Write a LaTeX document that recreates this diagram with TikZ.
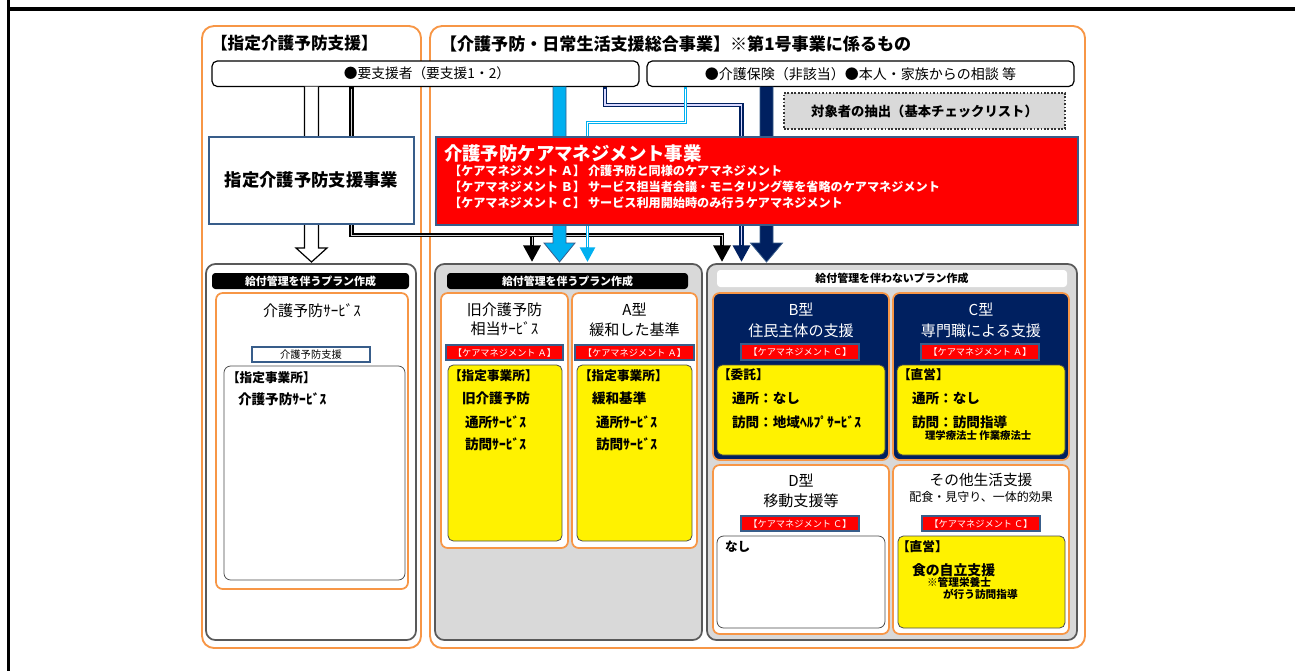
\documentclass[tikz,border=0pt]{standalone}
\usepackage{fontspec}
\setmainfont{Noto Sans CJK JP}
\usetikzlibrary{fit,calc,arrows.meta}
\definecolor{orangeC}{HTML}{F79646}
\definecolor{navyC}{HTML}{002060}
\definecolor{cyanC}{HTML}{00B0F0}
\definecolor{bgray}{HTML}{385D8A}
\definecolor{lgray}{HTML}{D9D9D9}
\definecolor{dgray}{HTML}{595959}
\newcommand\jfs[1]{\fontsize{#1pt}{#1pt}\selectfont}
\begin{document}
\begin{tikzpicture}[x=0.75pt,y=-0.75pt,
  every node/.style={inner sep=0pt, outer sep=0pt},
  obox/.style={draw=orangeC, line width=1.4pt, rounded corners=9pt},
  gbox/.style={draw=dgray, line width=1.3pt, rounded corners=7pt},
  ibox/.style={draw=orangeC, line width=1.3pt, rounded corners=5pt, fill=white},
  nbox/.style={draw=orangeC, line width=1.3pt, rounded corners=5pt, fill=navyC},
  ybox/.style={draw=black!70, line width=0.6pt, rounded corners=4pt, fill=yellow},
  wbox/.style={draw=black!70, line width=0.6pt, rounded corners=5pt, fill=white},
  rbox/.style={draw=black, line width=0.9pt, rounded corners=4pt, fill=white},
  tagbox/.style={fill=red, draw=bgray, line width=0.8pt},
  tagtx/.style={text=white, font=\jfs{6.9}},
  hdr/.style={fill=black, rounded corners=2.5pt},
  hdrtx/.style={text=white, font=\bfseries\jfs{8.2}},
  lbl/.style={anchor=west},
  ttl/.style={font=\jfs{11.3}},
  ytx/.style={anchor=west, font=\bfseries\jfs{9.5}},
  ytx2/.style={anchor=west, font=\bfseries\jfs{10.2}},
  blk/.style={draw=black, line width=3.2pt, -{Triangle[length=12.5pt,width=12.5pt]}},
  blkin/.style={draw=gray!35, line width=0.7pt},
  lcy/.style={draw=cyanC, line width=2.6pt, -{Triangle[length=11pt,width=11pt]}},
  lcyin/.style={draw=white, line width=0.9pt},
  nvy/.style={draw=navyC, line width=3.3pt, -{Triangle[length=12.5pt,width=12.5pt]}},
  nvyin/.style={draw=white!85!blue, line width=1.1pt},
]
\useasboundingbox (0,0) rectangle (1295,671);
\fill[white] (0,0) rectangle (1295,671);
% frame
\draw[line width=2.5pt] (8.3,0) -- (8.3,671);
\draw[line width=2.5pt] (8.3,9) -- (1295,9);

% outer orange boxes
\node[obox, fit={(202,26)(421,648)}] (lo) {};
\node[obox, fit={(430,26)(1085,648)}] (ro) {};
\node[lbl, font=\bfseries\jfs{12.5}] (lot) at (211,43) {【指定介護予防支援】};
\node[lbl, font=\bfseries\jfs{12.8}] (rot) at (440,44) {【介護予防・日常生活支援総合事業】※第1号事業に係るもの};

% top boxes
\node[rbox, fit={(212,61)(639,86.5)}] (ys) {};
\node[font=\jfs{10.3}] (yst) at ($(ys.center)+(1.5,0)$) {●要支援者（要支援1・2）};
\node[rbox, fit={(647,61)(1074,86.5)}] (kh) {};
\node[font=\jfs{10.5}] (kht) at (kh.center) {●介護保険（非該当）●本人・家族からの相談 等};
\node[fill=lgray, draw=black!80, line width=1.5pt, dash pattern=on 1.3pt off 1.3pt,
      fit={(784,93)(1065,129)}] (tc) {};
\node[font=\bfseries\jfs{10}] (tct) at (tc.center) {対象者の抽出（基本チェックリスト）};

% ---------- left column lower
\node[gbox, fill=white, fit={(206,264)(416,640)}] (lg) {};
\node[hdr, fit={(212,273)(409,289)}] (lgh) {};
\node[hdrtx] (lght) at (lgh.center) {給付管理を伴うプラン作成};
\node[ibox, fit={(216,293)(408,589)}] (lgo) {};
\node[font=\jfs{11.3}] (lgt) at (312,311) {介護予防ｻｰﾋﾞｽ};
\node[fill=white, draw=bgray, line width=0.8pt, fit={(252,347)(370,362)}] (lgs) {};
\node[font=\jfs{7.7}] (lgst) at (lgs.center) {介護予防支援};
\node[wbox, fit={(224,366)(405,580)}] (lgw) {};
\node[ytx] (lgw1) at (227,378) {【指定事業所】};
\node[ytx2] (lgw2) at (238,399) {介護予防ｻｰﾋﾞｽ};

% ---------- middle column
\node[gbox, fill=lgray, fit={(435,264)(702,640)}] (mg) {};
\node[hdr, fit={(447,273)(688,289)}] (mgh) {};
\node[hdrtx] (mght) at (mgh.center) {給付管理を伴うプラン作成};
\node[ibox, fit={(441,293)(568,548)}] (m1) {};
\node[ttl] (m1a) at (504.5,310) {旧介護予防};
\node[ttl] (m1b) at (504.5,329) {相当ｻｰﾋﾞｽ};
\node[tagbox, fit={(446,345)(563,360)}] (m1t) {};
\node[tagtx] (m1tt) at (m1t.center) {【ケアマネジメント Ａ】};
\node[ybox, fit={(448,365)(562,541)}] (m1y) {};
\node[ytx] (m1y1) at (449,376) {【指定事業所】};
\node[ytx2] (m1y2) at (462,398) {旧介護予防};
\node[ytx2] (m1y3) at (465,422) {通所ｻｰﾋﾞｽ};
\node[ytx2] (m1y4) at (465,444) {訪問ｻｰﾋﾞｽ};

\node[ibox, fit={(572,293)(697,548)}] (m2) {};
\node[ttl] (m2a) at (634.5,310) {A型};
\node[ttl] (m2b) at (634.5,330) {緩和した基準};
\node[tagbox, fit={(575,345)(694,360)}] (m2t) {};
\node[tagtx] (m2tt) at (m2t.center) {【ケアマネジメント Ａ】};
\node[ybox, fit={(577,365)(692,541)}] (m2y) {};
\node[ytx] (m2y1) at (579,376) {【指定事業所】};
\node[ytx2] (m2y2) at (592,398) {緩和基準};
\node[ytx2] (m2y3) at (596,422) {通所ｻｰﾋﾞｽ};
\node[ytx2] (m2y4) at (596,444) {訪問ｻｰﾋﾞｽ};

% ---------- right column
\node[gbox, fill=lgray, fit={(707,264)(1077,640)}] (rg) {};
\node[fill=white, rounded corners=2.5pt, fit={(717,270)(1067,287)}] (rgh) {};
\node[font=\bfseries\jfs{8.2}] (rght) at (rgh.center) {給付管理を伴わないプラン作成};

\node[nbox, fit={(713,293)(889,460)}] (rb) {};
\node[ttl, text=white] (rba) at (801,310) {B型};
\node[ttl, text=white] (rbb) at (801,331) {住民主体の支援};
\node[tagbox, fit={(741,344)(859,360)}] (rbt) {};
\node[tagtx] (rbtt) at (rbt.center) {【ケアマネジメント Ｃ】};
\node[ybox, fit={(717,365)(885,455)}] (rby) {};
\node[ytx] (rby1) at (718,375) {【委託】};
\node[ytx2] (rby2) at (732,398) {通所：なし};
\node[ytx2] (rby3) at (732,422) {訪問：地域ﾍﾙﾌﾟｻｰﾋﾞｽ};

\node[nbox, fit={(893,293)(1069,460)}] (rc) {};
\node[ttl, text=white] (rca) at (981,310) {C型};
\node[ttl, text=white] (rcb) at (981,331) {専門職による支援};
\node[tagbox, fit={(921,344)(1039,360)}] (rct) {};
\node[tagtx] (rctt) at (rct.center) {【ケアマネジメント Ａ】};
\node[ybox, fit={(897,365)(1065,455)}] (rcy) {};
\node[ytx] (rcy1) at (898,375) {【直営】};
\node[ytx2] (rcy2) at (912,398) {通所：なし};
\node[ytx2] (rcy3) at (912,422) {訪問：訪問指導};
\node[anchor=west, font=\bfseries\jfs{7.8}] (rcy4) at (925,436) {理学療法士 作業療法士};

\node[ibox, fit={(713,465)(889,634)}] (rdd) {};
\node[ttl] (rdda) at (801,481) {D型};
\node[ttl] (rddb) at (801,501) {移動支援等};
\node[tagbox, fit={(741,516)(859,531)}] (rddt) {};
\node[tagtx] (rddtt) at (rddt.center) {【ケアマネジメント Ｃ】};
\node[wbox, fit={(717,536)(885,628)}] (rddw) {};
\node[ytx] (rddw1) at (725,547) {なし};

\node[ibox, fit={(893,465)(1069,634)}] (re) {};
\node[font=\jfs{11}] (rea) at (981,480) {その他生活支援};
\node[font=\jfs{9}] (reb) at (981,497) {配食・見守り、一体的効果};
\node[tagbox, fit={(922,516)(1040,531)}] (ret) {};
\node[tagtx] (rett) at (ret.center) {【ケアマネジメント Ｃ】};
\node[ybox, fit={(898,536)(1065,628)}] (rey) {};
\node[ytx] (rey1) at (897,547) {【直営】};
\node[anchor=west, font=\bfseries\jfs{10.4}] (rey2) at (912,570) {食の自立支援};
\node[anchor=west, font=\bfseries\jfs{8}] (rey3) at (927,582) {※管理栄養士};
\node[anchor=west, font=\bfseries\jfs{8}] (rey4) at (943,594) {が行う訪問指導};

% ---------- connectors
\coordinate (hx) at (311.5,0);
\coordinate (bA) at (351.5,0);
\coordinate (bB) at (532,0);
\coordinate (bC) at (722,0);
\coordinate (by) at (0,235);
\coordinate (cx) at (559.5,0);
\coordinate (lc1) at (685.5,0);
\coordinate (lc2) at (587.5,0);
\coordinate (ly) at (0,122.5);
\coordinate (n1) at (605,0);
\coordinate (n2) at (741.5,0);
\coordinate (ny) at (0,105);
\coordinate (nx) at (766.5,0);

% hollow arrow
\filldraw[fill=white, draw=black, line width=0.9pt]
  ($(ys.south -| hx)+(-7,0)$) -- ($(lg.north -| hx)+(-7,-16)$) -- ($(lg.north -| hx)+(-15.5,-16)$)
  -- ($(lg.north -| hx)+(0,-2)$) -- ($(lg.north -| hx)+(15.5,-16)$) -- ($(lg.north -| hx)+(7,-16)$)
  -- ($(ys.south -| hx)+(7,0)$);

% black double connector
\draw[blk, shorten >=1.5pt] (ys.south -| bA) -- (by -| bA) -- (by -| bC) -- (rg.north -| bC);
\draw[blk, shorten >=1.5pt] (by -| bB) -- (mg.north -| bB);
\draw[blkin, shorten <=1.5pt, shorten >=14pt] (ys.south -| bA) -- (by -| bA) -- (by -| bC) -- (rg.north -| bC);
\draw[blkin, shorten <=1.5pt, shorten >=14pt] (by -| bB) -- (mg.north -| bB);

% navy thin double connector
\draw[nvy, shorten >=1.5pt] (ys.south -| n1) -- (ny -| n1) -- (ny -| n2) -- (rg.north -| n2);
\draw[nvyin, shorten <=1.5pt, shorten >=14pt] (ys.south -| n1) -- (ny -| n1) -- (ny -| n2) -- (rg.north -| n2);

% big cyan arrow
\filldraw[fill=cyanC, draw=bgray, line width=0.6pt]
  ($(ys.south -| cx)+(-6.5,0)$) -- ($(mg.north -| cx)+(-6.5,-21)$) -- ($(mg.north -| cx)+(-15.5,-21)$)
  -- ($(mg.north -| cx)+(0,-2)$) -- ($(mg.north -| cx)+(15.5,-21)$) -- ($(mg.north -| cx)+(6.5,-21)$)
  -- ($(ys.south -| cx)+(6.5,0)$);

% light cyan double connector
\draw[lcy, shorten >=1.5pt] (kh.south -| lc1) -- (ly -| lc1) -- (ly -| lc2) -- (mg.north -| lc2);
\draw[lcyin, shorten <=1.5pt, shorten >=13pt] (kh.south -| lc1) -- (ly -| lc1) -- (ly -| lc2) -- (mg.north -| lc2);

% big navy arrow
\filldraw[fill=navyC, draw=bgray, line width=0.6pt]
  ($(kh.south -| nx)+(-6.5,0)$) -- ($(rg.north -| nx)+(-6.5,-21)$) -- ($(rg.north -| nx)+(-16,-21)$)
  -- ($(rg.north -| nx)+(0,-2)$) -- ($(rg.north -| nx)+(16,-21)$) -- ($(rg.north -| nx)+(6.5,-21)$)
  -- ($(kh.south -| nx)+(6.5,0)$);

% ---------- middle band boxes (over connectors)
\node[fill=white, draw=bgray, line width=1.5pt, fit={(209,137)(414,223.5)}] (sj) {};
\node[font=\bfseries\jfs{13}] (sjt) at (sj.center) {指定介護予防支援事業};
\node[fill=red, draw=bgray, line width=1.8pt, fit={(436,137)(1078,225)}] (rd) {};
\node[lbl, text=white, font=\bfseries\jfs{13.8}] (rd0) at (444,153) {介護予防ケアマネジメント事業};
\node[lbl, text=white, font=\bfseries\jfs{9.1}] (rd1) at (449,171) {【ケアマネジメント Ａ】 介護予防と同様のケアマネジメント};
\node[lbl, text=white, font=\bfseries\jfs{9.1}] (rd2) at (449,187) {【ケアマネジメント Ｂ】 サービス担当者会議・モニタリング等を省略のケアマネジメント};
\node[lbl, text=white, font=\bfseries\jfs{9.1}] (rd3) at (449,203) {【ケアマネジメント Ｃ】 サービス利用開始時のみ行うケアマネジメント};
\end{tikzpicture}
\end{document}
